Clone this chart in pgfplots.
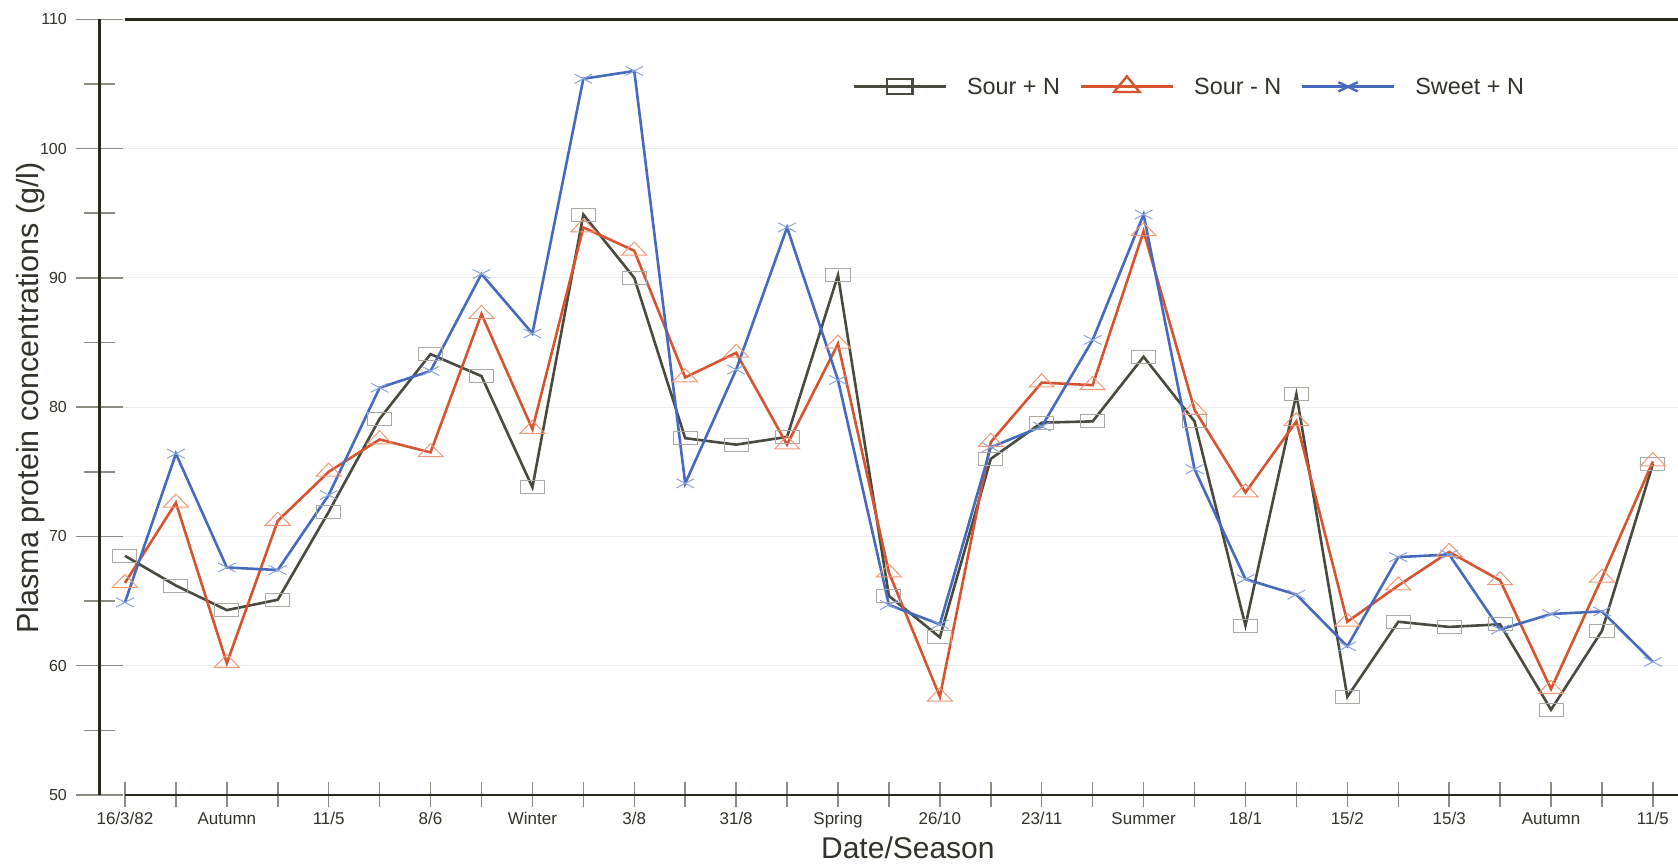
\documentclass[border=0pt]{standalone}
\usepackage{pgfplots}
\usepackage{pgfplotstable}
\pgfplotsset{compat=1.18}
\usepackage{fontspec}
\setmainfont{Liberation Sans}

\definecolor{sourpn}{RGB}{72,75,62}
\definecolor{sourmn}{RGB}{214,84,48}
\definecolor{sweetpn}{RGB}{70,106,190}
\definecolor{sourpnmark}{RGB}{170,170,164}
\definecolor{sourmnmark}{RGB}{238,152,120}
\definecolor{sweetpnmark}{RGB}{140,164,220}
\definecolor{txt}{RGB}{50,50,42}
\definecolor{axisc}{RGB}{40,42,30}
\definecolor{tickc}{RGB}{140,140,130}

% plasma protein (g/l) per sampling occasion
\pgfplotstableread{
idx sourpn sourmn sweetpn
0  68.5 66.4 64.9
1  66.2 72.6 76.4
2  64.3 60.2 67.6
3  65.1 71.2 67.4
4  71.9 75.0 73.2
5  79.1 77.5 81.5
6  84.1 76.5 82.8
7  82.4 87.2 90.3
8  73.8 78.3 85.7
9  94.9 93.9 105.4
10 90.0 92.1 106.0
11 77.6 82.3 74.1
12 77.1 84.2 82.9
13 77.7 77.1 93.9
14 90.2 84.9 82.1
15 65.4 67.2 64.7
16 62.2 57.6 63.2
17 76.0 77.3 76.9
18 78.8 81.9 78.5
19 78.9 81.7 85.2
20 83.9 93.6 94.9
21 78.9 79.8 75.2
22 63.1 73.4 66.7
23 81.0 78.9 65.5
24 57.6 63.4 61.5
25 63.4 66.2 68.4
26 63.0 68.8 68.6
27 63.2 66.6 62.8
28 56.6 58.2 64.0
29 62.7 66.8 64.2
30 75.6 75.8 60.3
}\protein

\begin{document}
\begin{tikzpicture}[x=1pt,y=1pt]
\useasboundingbox (0,0) rectangle (1678,864);
\begin{axis}[
  at={(99.5pt,69pt)}, anchor=south west,
  scale only axis, width=1578.9pt, height=775.7pt,
  xmin=-0.5, xmax=30.5, ymin=50, ymax=110,
  clip=false,
  axis x line*=box, axis y line*=left, separate axis lines,
  x axis line style={draw=none},
  y axis line style={draw=axisc, line width=2.5pt},
  xtick pos=left, ytick pos=left,
  xtick={0,...,30},
  xticklabels={16/3/82,,Autumn,,11/5,,8/6,,Winter,,3/8,,31/8,,Spring,,26/10,,23/11,,Summer,,18/1,,15/2,,15/3,,Autumn,,11/5},
  ytick={50,60,...,110},
  minor ytick={55,65,...,105},
  tick align=center,
  major tick length=46pt,
  minor tick length=30pt,
  xtick style={draw=tickc, line width=1.5pt, /pgfplots/major tick length=25pt},
  ytick style={draw=tickc, line width=1.5pt},
  ymajorgrids,
  major grid style={draw=black!7, line width=1pt},
  /pgf/number format/assume math mode=true,
  xticklabel style={font=\fontsize{17}{20}\selectfont, text=txt, anchor=base, inner sep=0pt, yshift=-6pt},
  yticklabel style={font=\fontsize{16}{19}\selectfont, text=txt, anchor=east, inner sep=0pt, xshift=-9.5pt},
  xlabel={Date/Season},
  xlabel style={font=\fontsize{30}{36}\selectfont, text=txt, at={(axis description cs:0.512,-0.0683)}, anchor=center},
  ylabel={Plasma protein concentrations (g/l)},
  ylabel style={font=\fontsize{30.5}{36}\selectfont, text=txt, at={(axis description cs:-0.0437,0.512)}, anchor=center},
  legend columns=3,
  legend style={at={(0.4769,0.914)}, anchor=west, draw=none, fill=none,
    inner sep=0pt, outer sep=0pt, text=txt,
    font=\fontsize{23.4}{28}\selectfont,
    nodes={inner sep=0pt},
    /tikz/every odd column/.append style={column sep=20pt},
    /tikz/every even column/.append style={column sep=19.5pt}},
  legend image code/.code={\draw[mark repeat=2,mark phase=2,#1] plot coordinates {(0pt,0pt) (46pt,0pt) (92pt,0pt)};},
]
% markers first, light and thin
\addplot[forget plot, only marks, mark=square, mark size=6.5pt,
  mark options={xscale=1.85, solid, draw=sourpnmark, line width=1pt, fill=none}]
  table[x=idx, y=sourpn] {\protein};
\addplot[forget plot, only marks, mark=triangle, mark size=8.7pt,
  mark options={xscale=1.66, solid, draw=sourmnmark, line width=1pt, fill=none}]
  table[x=idx, y=sourmn] {\protein};
\addplot[forget plot, only marks, mark=x, mark size=6.5pt,
  mark options={xscale=1.92, solid, draw=sweetpnmark, line width=1pt}]
  table[x=idx, y=sweetpn] {\protein};
% connecting lines
\addplot[forget plot, sourpn, line width=2.6pt, no marks] table[x=idx, y=sourpn] {\protein};
\addplot[forget plot, sourmn, line width=2.6pt, no marks] table[x=idx, y=sourmn] {\protein};
\addplot[forget plot, sweetpn, line width=2.6pt, no marks] table[x=idx, y=sweetpn] {\protein};
% frame lines
\draw[axisc, line width=2.5pt] (axis cs:0,50) -- (axis cs:30.5,50);
\draw[axisc, line width=2.5pt] (axis cs:0,110) -- (axis cs:30.5,110);
\draw[black!20, line width=1pt] (axis cs:30.5,50) -- (axis cs:30.5,110);
% legend
\addlegendimage{sourpn, line width=2.6pt, mark=square, mark size=7.5pt, mark options={xscale=1.7, solid, draw=sourpn, line width=2.2pt, fill=none}}
\addlegendentry{Sour + N}
\addlegendimage{sourmn, line width=2.6pt, mark=triangle, mark size=10.5pt, mark options={xscale=1.4, solid, draw=sourmn, line width=2.4pt, fill=none}}
\addlegendentry{Sour - N}
\addlegendimage{sweetpn, line width=2.6pt, mark=x, mark size=6.5pt, mark options={xscale=2.1, solid, draw=sweetpn, line width=2.4pt}}
\addlegendentry{Sweet + N}
\end{axis}
\end{tikzpicture}
\end{document}
